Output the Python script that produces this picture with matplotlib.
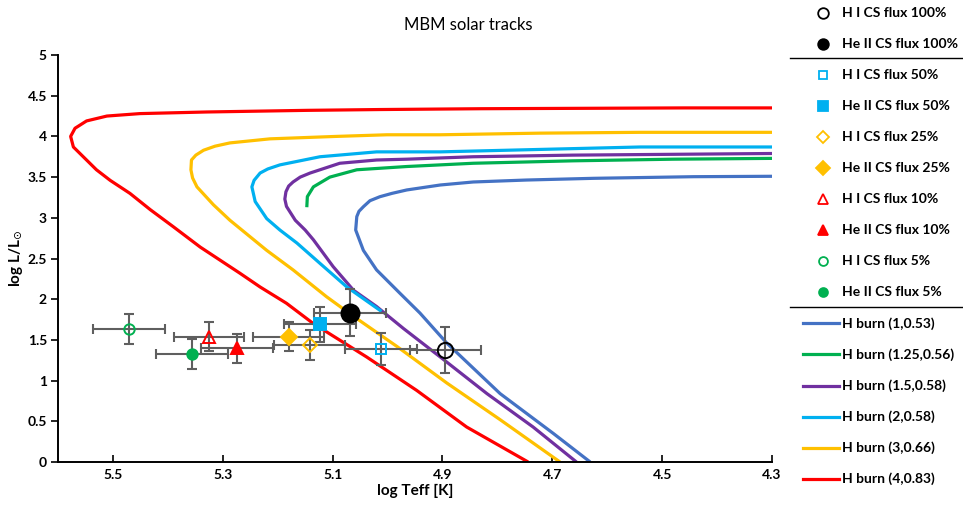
import matplotlib
matplotlib.use("Agg")
import matplotlib.pyplot as plt
from matplotlib.lines import Line2D

plt.rcParams['font.family'] = ['Lato', 'DejaVu Sans']

# ---- evolutionary tracks (log Teff, log L) ----
track_labels = ["H burn (1,0.53)", "H burn (1.25,0.56)", "H burn (1.5,0.58)",
                "H burn (2,0.58)", "H burn (3,0.66)", "H burn (4,0.83)"]
track_colors = ["#4472C4", "#00B050", "#7030A0", "#00B0F0", "#FFC000", "#FF0000"]

t1_teff = [4.300, 4.443, 4.625, 4.747, 4.844, 4.904, 4.965, 4.992, 5.014, 5.032, 5.044,
           5.052, 5.056, 5.058, 5.044, 5.020, 4.977, 4.941, 4.892, 4.795, 4.698, 4.631]
t1_logl = [3.51, 3.505, 3.485, 3.464, 3.44, 3.403, 3.342, 3.30, 3.259, 3.21, 3.136,
           3.08, 3.014, 2.85, 2.60, 2.36, 2.07, 1.83, 1.46, 0.84, 0.35, 0.0]

t125_teff = [4.300, 4.480, 4.662, 4.844, 4.965, 5.056, 5.105, 5.135, 5.146, 5.147]
t125_logl = [3.73, 3.72, 3.70, 3.67, 3.63, 3.59, 3.50, 3.38, 3.26, 3.13]

t15_teff = [4.300, 4.480, 4.662, 4.844, 4.965, 5.020, 5.087, 5.141, 5.159, 5.172, 5.180,
            5.185, 5.187, 5.184, 5.168, 5.150, 5.135, 5.099, 5.062, 5.020, 4.971, 4.904,
            4.819, 4.735, 4.656]
t15_logl = [3.79, 3.78, 3.77, 3.75, 3.72, 3.71, 3.67, 3.55, 3.50, 3.44, 3.39,
            3.32, 3.23, 3.14, 2.97, 2.85, 2.73, 2.40, 2.11, 1.91, 1.64, 1.29,
            0.84, 0.43, 0.0]

t2_teff = [4.300, 4.540, 4.722, 4.904, 5.020, 5.123, 5.196, 5.218, 5.232, 5.243, 5.247,
           5.241, 5.220, 5.196, 5.165, 5.123, 5.074, 5.011]
t2_logl = [3.87, 3.87, 3.84, 3.81, 3.81, 3.75, 3.65, 3.60, 3.55, 3.46, 3.38,
           3.20, 2.99, 2.85, 2.69, 2.44, 2.15, 1.85]

t3_teff = [4.300, 4.540, 4.722, 4.904, 5.001, 5.093, 5.214, 5.287, 5.314, 5.335, 5.349,
           5.357, 5.358, 5.355, 5.347, 5.317, 5.287, 5.220, 5.172, 5.111, 5.062, 4.983,
           4.892, 4.795, 4.686]
t3_logl = [4.05, 4.05, 4.04, 4.02, 4.02, 4.00, 3.97, 3.92, 3.88, 3.83, 3.77,
           3.71, 3.59, 3.49, 3.38, 3.16, 2.97, 2.60, 2.36, 2.03, 1.79, 1.42,
           0.97, 0.52, 0.0]

t4_teff = [4.300, 4.460, 4.830, 5.014, 5.147, 5.329, 5.451, 5.511, 5.548, 5.569, 5.577,
           5.572, 5.554, 5.530, 5.505, 5.469, 5.432, 5.390, 5.341, 5.269, 5.232, 5.184,
           5.135, 5.038, 4.947, 4.856, 4.744]
t4_logl = [4.35, 4.35, 4.34, 4.33, 4.32, 4.30, 4.28, 4.25, 4.19, 4.10, 4.00,
           3.87, 3.75, 3.59, 3.46, 3.30, 3.10, 2.89, 2.64, 2.32, 2.15, 1.95,
           1.70, 1.29, 0.88, 0.43, 0.0]

tracks = [(t1_teff, t1_logl), (t125_teff, t125_logl), (t15_teff, t15_logl),
          (t2_teff, t2_logl), (t3_teff, t3_logl), (t4_teff, t4_logl)]

# ---- central star positions with error bars ----
obs_labels = ["H I CS flux 100%", "He II CS flux 100%", "H I CS flux 50%", "He II CS flux 50%",
              "H I CS flux 25%", "He II CS flux 25%", "H I CS flux 10%", "He II CS flux 10%",
              "H I CS flux 5%", "He II CS flux 5%"]
obs_teff = [4.895, 5.068, 5.012, 5.123, 5.142, 5.180, 5.325, 5.274, 5.471, 5.356]
obs_logl = [1.376, 1.834, 1.388, 1.690, 1.437, 1.540, 1.540, 1.397, 1.634, 1.327]
obs_terr = [0.065, 0.065, 0.065, 0.065, 0.065, 0.065, 0.063, 0.065, 0.065, 0.065]
obs_lerr = [0.28, 0.29, 0.20, 0.21, 0.19, 0.18, 0.18, 0.18, 0.18, 0.19]

obs_style = [
    dict(marker='o', color='black', filled=False, ms=11),
    dict(marker='o', color='black', filled=True, ms=13),
    dict(marker='s', color='#00B0F0', filled=False, ms=7.5),
    dict(marker='s', color='#00B0F0', filled=True, ms=8),
    dict(marker='D', color='#FFC000', filled=False, ms=7.5),
    dict(marker='D', color='#FFC000', filled=True, ms=8),
    dict(marker='^', color='#FF0000', filled=False, ms=8.5),
    dict(marker='^', color='#FF0000', filled=True, ms=9),
    dict(marker='o', color='#00B050', filled=False, ms=7.5),
    dict(marker='o', color='#00B050', filled=True, ms=7.5),
]

W, H = 963, 507
fig = plt.figure(figsize=(W / 100, H / 100), dpi=100)
ax = fig.add_axes([58 / W, 45 / H, 714 / W, 407 / H])

for (tx, ly), c in zip(tracks, track_colors):
    ax.plot(tx, ly, color=c, lw=2.3, solid_capstyle='butt', solid_joinstyle='round', zorder=2)

for i in range(len(obs_labels)):
    ax.errorbar(obs_teff[i], obs_logl[i], xerr=obs_terr[i], yerr=obs_lerr[i],
                fmt='none', ecolor='#5F5F5F', elinewidth=1.5, capsize=3.5,
                capthick=1.5, zorder=3)
for i, st in enumerate(obs_style):
    ax.plot(obs_teff[i], obs_logl[i], linestyle='none', marker=st['marker'],
            markersize=st['ms'], markeredgecolor=st['color'], markeredgewidth=1.4,
            markerfacecolor=st['color'] if st['filled'] else 'none', zorder=4)

ax.set_xlim(5.6, 4.3)
ax.set_ylim(0, 5)
ax.set_xticks([5.5, 5.3, 5.1, 4.9, 4.7, 4.5, 4.3])
ax.set_xticklabels(["5.5", "5.3", "5.1", "4.9", "4.7", "4.5", "4.3"])
ax.set_yticks([0, 0.5, 1, 1.5, 2, 2.5, 3, 3.5, 4, 4.5, 5])
ax.set_yticklabels(["0", "0.5", "1", "1.5", "2", "2.5", "3", "3.5", "4", "4.5", "5"])
for s in ['top', 'right']:
    ax.spines[s].set_visible(False)
for s in ['left', 'bottom']:
    ax.spines[s].set_linewidth(1.4)
ax.tick_params(axis='x', direction='in', length=5, width=1.2, labelsize=10, pad=5)
ax.tick_params(axis='y', direction='out', length=5, width=1.2, labelsize=10, pad=3)
for lab in ax.get_xticklabels() + ax.get_yticklabels():
    lab.set_fontweight('bold')
ax.set_xlabel("log Teff [K]", fontsize=11, fontweight='bold', labelpad=2)
ax.set_ylabel(r"log L/L$_{\odot}$", fontsize=11, fontweight='bold', labelpad=2)

fig.text(468 / W, 1 - 25 / H, "MBM solar tracks", ha='center', va='center', fontsize=12)

# ---- legend drawn by hand (rows every ~31 px) ----
rows = obs_labels + track_labels
for k, lab in enumerate(rows):
    yy = 1 - (12.7 + 31.07 * k) / H
    if k < len(obs_labels):
        st = obs_style[k]
        fig.add_artist(Line2D([823 / W], [yy], transform=fig.transFigure, linestyle='none',
                              marker=st['marker'], markersize=min(st['ms'], 9) * 0.85,
                              markeredgecolor=st['color'], markeredgewidth=1.3,
                              markerfacecolor=st['color'] if st['filled'] else 'none'))
    else:
        c = track_colors[k - len(obs_labels)]
        fig.add_artist(Line2D([803 / W, 839 / W], [yy, yy], transform=fig.transFigure,
                              color=c, lw=2.3))
    fig.text(842 / W, yy, lab, ha='left', va='center', fontsize=10, fontweight='bold')

for ysep in [57.5, 307]:
    fig.add_artist(Line2D([790 / W, 1.0], [1 - ysep / H] * 2, transform=fig.transFigure,
                          color='black', lw=1.0))

fig.savefig("out.png", dpi=100)
